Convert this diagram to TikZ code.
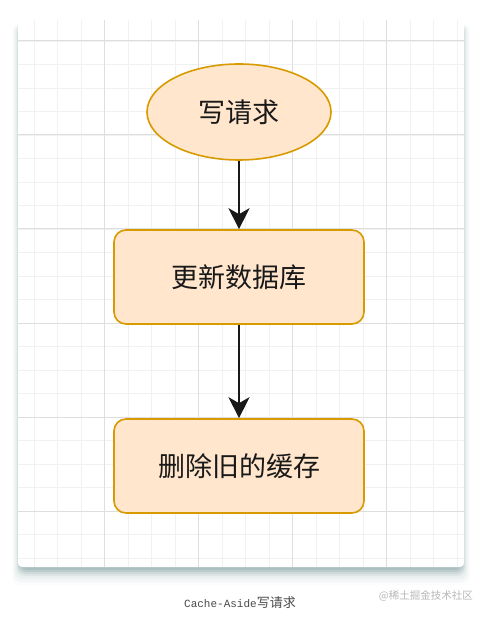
\documentclass[tikz,border=0pt]{standalone}
\usepackage{fontspec}
\setmainfont{Liberation Sans}
\newfontfamily\cjk{Noto Sans CJK SC}
\newfontfamily\capmono{Liberation Mono}
\usetikzlibrary{arrows.meta,shapes.geometric}
\definecolor{nodefill}{HTML}{FFE6CC}
\definecolor{nodeline}{HTML}{D79B00}
\definecolor{gridmajor}{HTML}{DEDEDE}
\definecolor{gridminor}{HTML}{F1F1F1}
\definecolor{shadowc}{HTML}{5F858A}
\definecolor{captc}{HTML}{4A4A4A}
\definecolor{markc}{HTML}{B8B8B8}
\tikzset{
  flowbox/.style={draw=nodeline, fill=nodefill, line width=1.6pt, rounded corners=12pt,
    minimum width=250pt, minimum height=94pt, font=\cjk\fontsize{27}{30}\selectfont, text=black!90},
  flowell/.style={ellipse, draw=nodeline, fill=nodefill, line width=1.6pt,
    minimum width=184pt, minimum height=96pt, inner sep=0pt, font=\cjk\fontsize{27}{30}\selectfont, text=black!90},
  flowarrow/.style={draw=black!90, line width=2pt, -{Stealth[length=21pt,width=21pt,inset=6pt]}}
}
\begin{document}
\begin{tikzpicture}[x=1pt,y=-1pt]
\useasboundingbox (0,0) rectangle (489,617);
\fill[white] (0,0) rectangle (489,617);
% card shadow
\foreach \i/\o in {16/0.025,13/0.04,10/0.06,7/0.09,5/0.12,3/0.15,1/0.18}{
  \fill[shadowc, opacity=\o, rounded corners=8pt] (20-\i*0.5,24) rectangle (462+\i*0.5,569+\i);
}
% card
\fill[white, rounded corners=4pt] (18,20) rectangle (464,567);
\begin{scope}
\clip[rounded corners=4pt] (18,20) rectangle (464,567);
\foreach \x in {0,...,19} { \draw[gridminor, line width=0.8pt] (10.5+\x*23.5,20) -- (10.5+\x*23.5,567); }
\foreach \y in {0,...,24} { \draw[gridminor, line width=0.8pt] (18,17.5+\y*23.5) -- (464,17.5+\y*23.5); }
\foreach \x in {0,...,5} { \draw[gridmajor, line width=1pt] (10.5+\x*94,20) -- (10.5+\x*94,567); }
\foreach \y in {0,...,6} { \draw[gridmajor, line width=1pt] (18,41+\y*94) -- (464,41+\y*94); }
\end{scope}
% nodes
\node[flowell] (req) at (239,112) {写请求};
\node[flowbox] (db) at (239,277) {更新数据库};
\node[flowbox] (cache) at (239,466) {删除旧的缓存};
\draw[flowarrow] (req.south) -- (db.north);
\draw[flowarrow] (db.south) -- (cache.north);
% caption
\node[text=captc, inner sep=0pt] (cap) at (240,603) {\capmono\fontsize{11}{13}\selectfont Cache-Aside{\cjk\fontsize{13}{13}\selectfont 写请求}};
\node[text=markc, inner sep=0pt, anchor=east] (mark) at (473,596) {\cjk\fontsize{10.5}{12}\selectfont @稀土掘金技术社区};
\end{tikzpicture}
\end{document}
